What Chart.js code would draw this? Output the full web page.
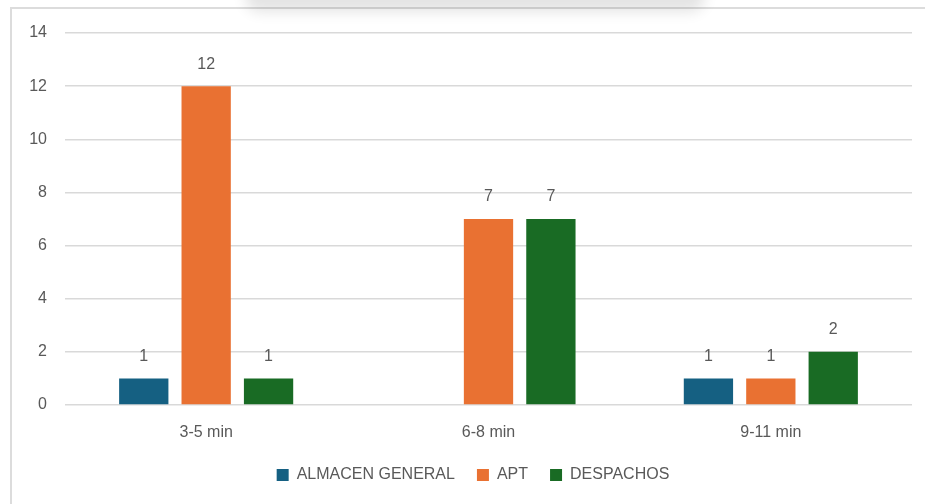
<!DOCTYPE html>
<html>
<head>
<meta charset="utf-8">
<script src="https://cdn.jsdelivr.net/npm/chart.js@4.4.1/dist/chart.umd.min.js"></script>
<style>
  html, body { margin: 0; padding: 0; background: #fff; overflow: hidden; }
  #wrap { position: relative; width: 925px; height: 504px; }
  #frame {
    position: absolute; left: 10px; top: 7px; right: -5px; bottom: -5px;
    border-left: 2px solid #dcdcdc; border-top: 2px solid #dcdcdc;
  }
  #shade {
    position: absolute; left: 245px; top: -30px; width: 460px; height: 30px;
    box-shadow: 0 12px 14px rgba(0, 0, 0, 0.11);
    border-radius: 60px;
  }
  canvas { position: absolute; left: 0; top: 0; }
</style>
</head>
<body>
<div id="wrap">
  <div id="frame"></div>
  <canvas id="chart" width="925" height="504"></canvas>
  <div id="shade"></div>
</div>
<script>
// Time ranges and counts per area
const categories = ['3-5 min', '6-8 min', '9-11 min'];
const almacenGeneral = [1, null, 1];
const apt = [12, 7, 1];
const despachos = [1, 7, 2];
const yTicks = [0, 2, 4, 6, 8, 10, 12, 14];

const FONT = '"Liberation Sans", Arial, sans-serif';
const TEXT = '#595959';

// Values written above each bar
const barValues = {
    id: 'barValues',
    afterDatasetsDraw(chart) {
        const ctx = chart.ctx;
        ctx.save();
        ctx.font = '16px ' + FONT;
        ctx.fillStyle = TEXT;
        ctx.textAlign = 'center';
        ctx.textBaseline = 'middle';
        chart.data.datasets.forEach((ds, i) => {
            const meta = chart.getDatasetMeta(i);
            meta.data.forEach((bar, j) => {
                const v = ds.data[j];
                if (v === null || v === undefined) return;
                ctx.fillText(String(v), bar.x, bar.y - 22);
            });
        });
        ctx.restore();
    }
};

// Nudge the legend a little to the right
const legendShift = {
    id: 'legendShift',
    afterLayout(chart) {
        if (chart.legend) {
            chart.legend.left += 17;
            chart.legend.right += 17;
        }
    }
};

new Chart(document.getElementById('chart'), {
    type: 'bar',
    data: {
        labels: categories,
        datasets: [
            { label: 'ALMACEN GENERAL', data: almacenGeneral, backgroundColor: '#156082' },
            { label: 'APT', data: apt, backgroundColor: '#E97132' },
            { label: 'DESPACHOS', data: despachos, backgroundColor: '#196B24' }
        ]
    },
    options: {
        responsive: false,
        animation: false,
        datasets: {
            bar: { categoryPercentage: 0.663, barPercentage: 0.79 }
        },
        layout: { padding: { top: 33, right: 13, left: 0, bottom: 11 } },
        plugins: {
            legend: {
                position: 'bottom',
                labels: {
                    font: { family: FONT, size: 16 },
                    color: TEXT,
                    boxWidth: 12,
                    boxHeight: 12,
                    padding: 22
                }
            },
            tooltip: { enabled: false }
        },
        scales: {
            x: {
                grid: { display: false, drawTicks: false },
                border: { display: false },
                ticks: { font: { family: FONT, size: 16 }, color: TEXT, padding: 18 },
                afterFit(scale) { scale.height = 40; }
            },
            y: {
                min: 0,
                max: 14,
                afterBuildTicks(scale) { scale.ticks = yTicks.map(v => ({ value: v })); },
                grid: { color: '#d9d9d9', lineWidth: 1.5, drawTicks: false },
                border: { display: false },
                ticks: { font: { family: FONT, size: 16 }, color: TEXT, padding: 18 },
                afterFit(scale) { scale.width = 65; }
            }
        }
    },
    plugins: [barValues, legendShift]
});
</script>
</body>
</html>
